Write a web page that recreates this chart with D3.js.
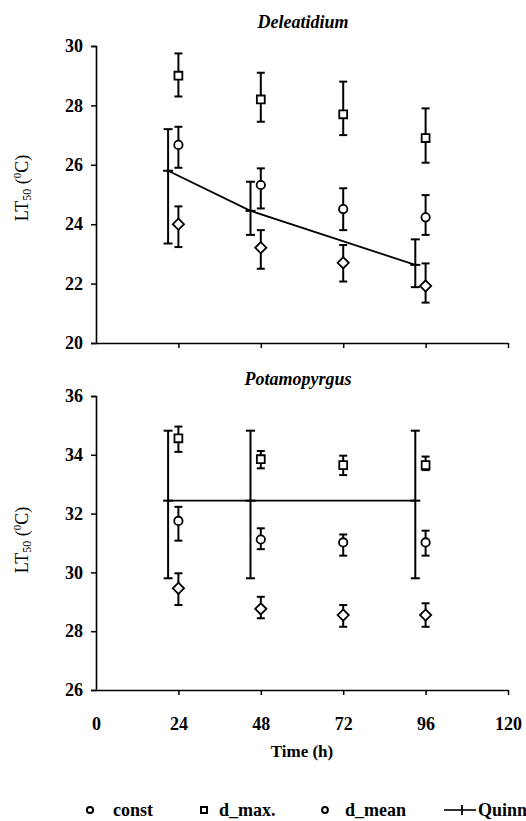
<!DOCTYPE html>
<html><head><meta charset="utf-8">
<script src="https://cdn.jsdelivr.net/npm/d3@7"></script>
<style>html,body{margin:0;padding:0;background:#fff;}svg{display:block;font-family:"Liberation Serif","Times New Roman",Times,serif;}
svg text{font-family:"Liberation Serif","Times New Roman",Times,serif;}</style>
</head><body>
<svg id="chart" width="526" height="821"></svg>
<script>
// ---------- data ----------
const times = [24, 48, 72, 96];
const quinnTimes = [21, 45, 93];
const xTicks = [0, 24, 48, 72, 96, 120];
const delTicks = [20, 22, 24, 26, 28, 30];
const potTicks = [26, 28, 30, 32, 34, 36];
const legendLabels = ["const", "d_max.", "d_mean", "Quinn"];

// Deleatidium
const delMax = [29.0, 28.2, 27.7, 26.9];
const delMaxHi = [29.75, 29.1, 28.8, 27.9];
const delMaxLo = [28.3, 27.45, 27.0, 26.07];
const delConst = [26.67, 25.32, 24.51, 24.23];
const delConstHi = [27.28, 25.88, 25.21, 24.98];
const delConstLo = [25.9, 24.53, 23.8, 23.64];
const delMean = [24.0, 23.21, 22.7, 21.92];
const delMeanHi = [24.6, 23.8, 23.3, 22.68];
const delMeanLo = [23.23, 22.5, 22.07, 21.36];
const delQuinn = [25.8, 24.45, 22.63];
const delQuinnHi = [27.2, 25.43, 23.49];
const delQuinnLo = [23.35, 23.64, 21.88];

// Potamopyrgus
const potMax = [34.56, 33.85, 33.65, 33.65];
const potMaxHi = [34.96, 34.13, 33.97, 33.94];
const potMaxLo = [34.1, 33.54, 33.31, 33.48];
const potConst = [31.75, 31.12, 31.02, 31.02];
const potConstHi = [32.23, 31.5, 31.29, 31.42];
const potConstLo = [31.08, 30.79, 30.57, 30.57];
const potMean = [29.46, 28.76, 28.55, 28.55];
const potMeanHi = [29.97, 29.17, 28.89, 28.95];
const potMeanLo = [28.89, 28.44, 28.15, 28.15];
const potQuinn = [32.44, 32.44, 32.44];
const potQuinnHi = [34.82, 34.82, 34.82];
const potQuinnLo = [29.8, 29.8, 29.8];

// ---------- drawing ----------
const svg = d3.select("#chart");
const x = d3.scaleLinear().domain([0, 120]).range([96, 508]);

const circleSym = d3.symbol().type(d3.symbolCircle).size(55);
const squareSym = d3.symbol().type(d3.symbolSquare).size(62);
const diamondSym = d3.symbol().type(d3.symbolDiamond2).size(80);

function panel(cfg) {
  const y = d3.scaleLinear().domain(cfg.domain).range([cfg.bottom, cfg.top]);
  const g = svg.append("g");

  // y axis
  const ya = g.append("g").attr("transform", `translate(${x(0)},0)`)
    .call(d3.axisLeft(y).tickValues(cfg.ticks).tickSize(5).tickPadding(8).tickFormat(d3.format("d")));
  ya.attr("font-family", null);
  ya.select(".domain").attr("stroke", "#000").attr("stroke-width", 1.6);
  ya.selectAll(".tick line").attr("stroke", "#000").attr("stroke-width", 1.5);
  ya.selectAll("text").attr("font-weight", "bold").attr("font-size", 18).attr("fill", "#000");

  // x axis
  const xa = g.append("g").attr("transform", `translate(0,${cfg.bottom})`)
    .call(d3.axisBottom(x).tickValues(xTicks).tickSize(5).tickSizeOuter(0).tickPadding(22)
      .tickFormat(cfg.xLabels ? d3.format("d") : ""));
  xa.attr("font-family", null);
  xa.select(".domain").attr("stroke", "#000").attr("stroke-width", 1.6);
  xa.selectAll(".tick line").attr("stroke", "#000").attr("stroke-width", 1.5);
  xa.selectAll(".tick").filter(d => d === 0).select("line").remove();
  xa.selectAll("text").attr("font-weight", "bold").attr("font-size", 18).attr("fill", "#000");

  // title
  g.append("text").attr("x", cfg.titleX).attr("y", cfg.titleY)
    .attr("text-anchor", "middle")
    .attr("font-weight", "bold").attr("font-style", "italic").attr("font-size", 18)
    .text(cfg.title);

  // y label
  const lab = g.append("text")
    .attr("transform", `translate(28,${cfg.labelY}) rotate(-90)`)
    .attr("text-anchor", "middle").attr("font-size", 18);
  lab.append("tspan").text("LT");
  lab.append("tspan").attr("font-size", 12).attr("dy", 3).text("50");
  lab.append("tspan").attr("dy", -3).text(" (");
  lab.append("tspan").attr("font-size", 11).attr("dy", -7).text("0");
  lab.append("tspan").attr("dy", 7).text("C)");

  // error bars helper
  function errBars(ts, lo, hi, cap) {
    const d = ts.map((t, i) => ({ t, lo: lo[i], hi: hi[i] }));
    const eg = g.append("g").attr("stroke", "#000").attr("stroke-width", 2).attr("fill", "none");
    eg.selectAll(".v").data(d).join("line")
      .attr("x1", e => x(e.t)).attr("x2", e => x(e.t))
      .attr("y1", e => y(e.lo)).attr("y2", e => y(e.hi));
    eg.selectAll(".ct").data(d).join("line")
      .attr("x1", e => x(e.t) - cap).attr("x2", e => x(e.t) + cap)
      .attr("y1", e => y(e.hi)).attr("y2", e => y(e.hi));
    eg.selectAll(".cb").data(d).join("line")
      .attr("x1", e => x(e.t) - cap).attr("x2", e => x(e.t) + cap)
      .attr("y1", e => y(e.lo)).attr("y2", e => y(e.lo));
  }

  // Quinn line + bars + plus markers
  const qd = quinnTimes.map((t, i) => ({ t, v: cfg.quinn[i] }));
  g.append("path").datum(qd)
    .attr("fill", "none").attr("stroke", "#000").attr("stroke-width", 1.8)
    .attr("d", d3.line().x(d => x(d.t)).y(d => y(d.v)));
  errBars(quinnTimes, cfg.quinnLo, cfg.quinnHi, 4.5);
  g.append("g").selectAll("line").data(qd).join("line")
    .attr("x1", d => x(d.t) - 5).attr("x2", d => x(d.t) + 5)
    .attr("y1", d => y(d.v)).attr("y2", d => y(d.v))
    .attr("stroke", "#000").attr("stroke-width", 2);

  // series
  const series = [
    { v: cfg.max, lo: cfg.maxLo, hi: cfg.maxHi, sym: squareSym },
    { v: cfg.cons, lo: cfg.consLo, hi: cfg.consHi, sym: circleSym },
    { v: cfg.mean, lo: cfg.meanLo, hi: cfg.meanHi, sym: diamondSym }
  ];
  series.forEach(s => errBars(times, s.lo, s.hi, 4));
  series.forEach(s => {
    g.append("g").selectAll("path").data(times.map((t, i) => ({ t, v: s.v[i] }))).join("path")
      .attr("d", s.sym)
      .attr("transform", d => `translate(${x(d.t)},${y(d.v)})`)
      .attr("fill", "#fff").attr("stroke", "#000").attr("stroke-width", 1.8);
  });
}

panel({
  domain: [20, 30], top: 46, bottom: 343, ticks: delTicks, xLabels: false,
  title: "Deleatidium", titleX: 303, titleY: 28, labelY: 188,
  max: delMax, maxLo: delMaxLo, maxHi: delMaxHi,
  cons: delConst, consLo: delConstLo, consHi: delConstHi,
  mean: delMean, meanLo: delMeanLo, meanHi: delMeanHi,
  quinn: delQuinn, quinnLo: delQuinnLo, quinnHi: delQuinnHi
});
panel({
  domain: [26, 36], top: 396, bottom: 690, ticks: potTicks, xLabels: true,
  title: "Potamopyrgus", titleX: 298, titleY: 385, labelY: 540,
  max: potMax, maxLo: potMaxLo, maxHi: potMaxHi,
  cons: potConst, consLo: potConstLo, consHi: potConstHi,
  mean: potMean, meanLo: potMeanLo, meanHi: potMeanHi,
  quinn: potQuinn, quinnLo: potQuinnLo, quinnHi: potQuinnHi
});

// x axis title
svg.append("text").attr("x", x(60)).attr("y", 757).attr("text-anchor", "middle")
  .attr("font-weight", "bold").attr("font-size", 17).text("Time (h)");

// legend
const ly = 810;
const leg = svg.append("g").attr("font-weight", "bold").attr("font-size", 18);
const legItems = [
  { sym: d3.symbol().type(d3.symbolCircle).size(30), sx: 90, tx: 113 },
  { sym: d3.symbol().type(d3.symbolSquare).size(36), sx: 204, tx: 219 },
  { sym: d3.symbol().type(d3.symbolCircle).size(26), sx: 325, tx: 345 },
  { sym: null, sx: 462, tx: 478 }
];
legItems.forEach((it, i) => {
  if (it.sym) {
    leg.append("path").attr("d", it.sym).attr("transform", `translate(${it.sx},${ly})`)
      .attr("fill", "#fff").attr("stroke", "#000").attr("stroke-width", 2);
  } else {
    leg.append("line").attr("x1", it.sx - 18).attr("x2", it.sx + 14).attr("y1", ly).attr("y2", ly)
      .attr("stroke", "#000").attr("stroke-width", 1.6);
    leg.append("line").attr("x1", it.sx).attr("x2", it.sx).attr("y1", ly - 5).attr("y2", ly + 5)
      .attr("stroke", "#000").attr("stroke-width", 1.8);
  }
  leg.append("text").attr("x", it.tx).attr("y", ly + 6).text(legendLabels[i]);
});
</script>
</body></html>
